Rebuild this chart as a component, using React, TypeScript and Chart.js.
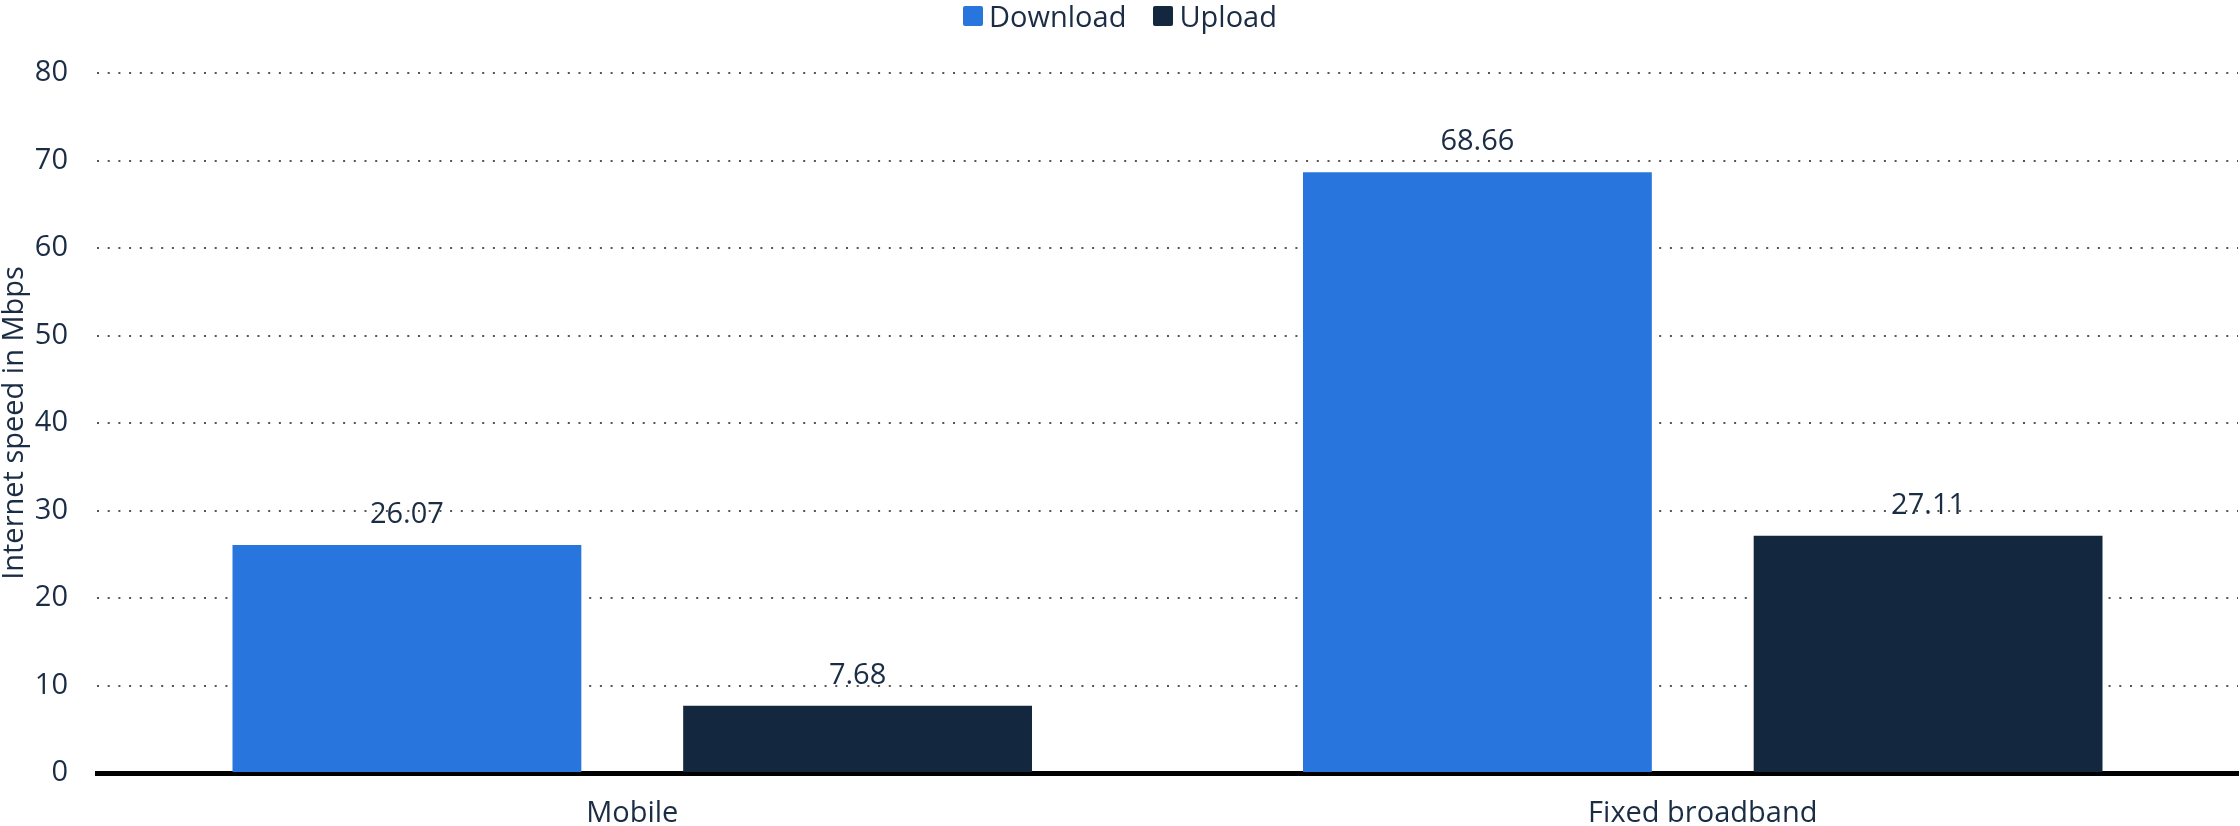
import React, { useEffect, useRef } from "react";
import { Chart, registerables } from "chart.js";

Chart.register(...registerables);

const categories = ["Mobile", "Fixed broadband"];
const downloadValues = [26.07, 68.66];
const uploadValues = [7.68, 27.11];
const seriesNames = ["Download", "Upload"];
const seriesColors = ["#2876dd", "#13283f"];
const yTicks = [0, 10, 20, 30, 40, 50, 60, 70, 80];
const yTitle = "Internet speed in Mbps";

const TEXT = "#1b2d45";
const FONT = "'Open Sans', 'Noto Sans', sans-serif";
const FS = 29;

const valueLabels = {
  id: "valueLabels",
  afterDatasetsDraw(chart: any) {
    const ctx = chart.ctx;
    ctx.save();
    ctx.font = `${FS}px ${FONT}`;
    ctx.fillStyle = TEXT;
    ctx.textAlign = "center";
    ctx.textBaseline = "middle";
    chart.data.datasets.forEach((ds: any, di: number) => {
      const meta = chart.getDatasetMeta(di);
      meta.data.forEach((bar: any, i: number) => {
        ctx.fillText(ds.data[i].toFixed(2), bar.x, bar.y - 30);
      });
    });
    ctx.restore();
  },
};

export default function App() {
  const ref = useRef<HTMLCanvasElement | null>(null);
  useEffect(() => {
    if (!ref.current) return;
    const chart = new Chart(ref.current, {
      type: "bar",
      data: {
        labels: categories,
        datasets: [
          {
            label: seriesNames[0],
            data: downloadValues,
            backgroundColor: seriesColors[0],
            categoryPercentage: 0.842,
            barPercentage: 0.774,
          },
          {
            label: seriesNames[1],
            data: uploadValues,
            backgroundColor: seriesColors[1],
            categoryPercentage: 0.842,
            barPercentage: 0.774,
          },
        ],
      },
      options: {
        responsive: false,
        devicePixelRatio: 1,
        animation: false,
        layout: { padding: { top: 73, right: 2, left: 0, bottom: 0 } },
        plugins: {
          legend: { display: false },
          tooltip: { enabled: false },
        },
        scales: {
          x: {
            grid: { display: false },
            border: { display: true, color: "#000000", width: 5 },
            ticks: { color: TEXT, font: { family: FONT, size: FS }, padding: 15 },
            afterFit: (s: any) => {
              s.height = 53;
            },
          },
          y: {
            min: 0,
            max: 80,
            afterBuildTicks: (s: any) => {
              s.ticks = yTicks.map((v) => ({ value: v }));
            },
            grid: { color: "#555555", lineWidth: 2, drawTicks: false },
            border: { display: false, dash: [2, 8.7] },
            ticks: { color: TEXT, font: { family: FONT, size: FS }, padding: 29 },
            title: {
              display: true,
              text: yTitle,
              color: TEXT,
              font: { family: FONT, size: FS, lineHeight: 1 },
              padding: 0,
            },
            afterFit: (s: any) => {
              s.width = 97;
            },
          },
        },
      },
      plugins: [valueLabels],
    });
    return () => chart.destroy();
  }, []);

  return (
    <div style={{ position: "absolute", left: 0, top: 0, width: 2240, height: 826, background: "#fff", fontFamily: FONT }}>
      <canvas ref={ref} width={2240} height={826} style={{ width: 2240, height: 826, display: "block" }} />
      <div
        style={{
          position: "absolute",
          left: 0,
          right: 0,
          top: 0,
          height: 32,
          display: "flex",
          justifyContent: "center",
          alignItems: "center",
          gap: 27,
          color: TEXT,
          fontSize: FS,
          lineHeight: "32px",
        }}
      >
        {seriesNames.map((n, i) => (
          <div key={n} style={{ display: "flex", alignItems: "center" }}>
            <span style={{ width: 20, height: 20, background: seriesColors[i], marginRight: 6, borderRadius: 2, display: "inline-block" }} />
            <span>{n}</span>
          </div>
        ))}
      </div>
    </div>
  );
}
